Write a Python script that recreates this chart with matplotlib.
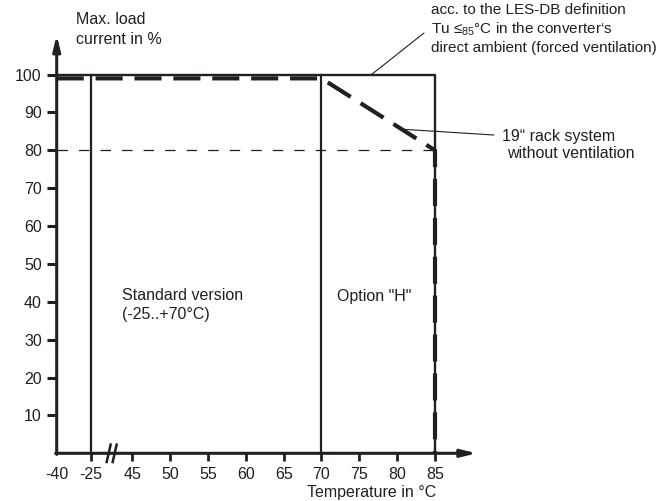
import numpy as np
import matplotlib
matplotlib.use("Agg")
import matplotlib.pyplot as plt

plt.rcParams['font.family'] = ['Liberation Sans', 'DejaVu Sans']
plt.rcParams['mathtext.fontset'] = 'custom'
plt.rcParams['mathtext.rm'] = 'Liberation Sans'
plt.rcParams['lines.scale_dashes'] = False

INK = '#231f20'

# data
x_ticks = [-40, -25, 45, 50, 55, 60, 65, 70, 75, 80, 85]
y_ticks = [10, 20, 30, 40, 50, 60, 70, 80, 90, 100]

box_temp = [-40, 85, 85]
box_load = [100, 100, 0]
divider_temps = [-25, 70]
divider_load = [0, 100]

rack_temp = [-40, 70, 85, 85]
rack_load = [99, 99, 80, 0]

ref_level = 80

# broken temperature axis: -40..-25 and 45..85 on one axis
brk_t = [-40, -25, 45, 85]
brk_u = [0, 34.3, 75.6, 378.3]


def t2u(t):
    return np.interp(t, brk_t, brk_u)


W, H = 667, 501
fig = plt.figure(figsize=(W / 100, H / 100), dpi=100)
ax = fig.add_axes([56.7 / W, (H - 453.3) / H, 420 / W, (453.3 - 35) / H])
ax.set_xlim(0, 420)
ax.set_ylim(0, (453.3 - 35) / 3.787)
for s in ax.spines.values():
    s.set_visible(False)

# axes with arrows
arrow = dict(arrowstyle='-|>,head_length=0.9,head_width=0.22', lw=2.2,
             color=INK, shrinkA=0, shrinkB=0)
ax.annotate('', xy=(420, 0), xytext=(-1, 0), arrowprops=arrow, annotation_clip=False)
ax.annotate('', xy=(0, ax.get_ylim()[1]), xytext=(0, -0.3), arrowprops=arrow,
            annotation_clip=False)

# solid box and dividers
ax.plot(t2u(box_temp), box_load, color=INK, lw=1.7, solid_capstyle='butt', clip_on=False)
for t in divider_temps:
    ax.plot(t2u([t, t]), divider_load, color=INK, lw=1.6, clip_on=False)

# 80 % reference
ax.plot(t2u([-40, 85]), [ref_level, ref_level], color=INK, lw=0.9,
        dashes=(7.5, 8), clip_on=False)

# rack system curve
ax.plot(t2u(rack_temp), rack_load, color=INK, lw=3, dashes=(19.5, 8.5),
        dash_capstyle='butt', clip_on=False)

# ticks
ax.set_xticks(t2u(x_ticks))
ax.set_xticklabels([str(t) for t in x_ticks], fontsize=11.5)
ax.set_yticks(y_ticks)
ax.set_yticklabels([str(v) for v in y_ticks], fontsize=11.5)
ax.tick_params(axis='x', length=6, width=2, color=INK, pad=4, labelcolor=INK)
ax.tick_params(axis='y', length=7.2, width=2.2, color=INK, pad=3.5, labelcolor=INK)
ax.xaxis.get_major_ticks()[0].tick1line.set_visible(False)

# axis break marks
bu = (t2u(-25) + t2u(45)) / 2
for off in (-3, 3):
    ax.plot([bu + off - 2, bu + off + 2], [-2.3, 2.3], color=INK, lw=1.8, clip_on=False)


def px_text(x, y, s, size=11.5, **kw):
    fig.text(x / W, 1 - y / H, s, fontsize=size, color=INK, va='center', **kw)


px_text(76, 20, 'Max. load')
px_text(76, 39, 'current in %')
px_text(372, 492, 'Temperature in °C', ha='center')

px_text(431, 10, 'acc. to the LES-DB definition', size=11)
px_text(431, 29, r'Tu ≤$_{\mathregular{85}}$°C in the converter‘s', size=11)
px_text(431, 48, 'direct ambient (forced ventilation)', size=11)

px_text(502, 136, '19“ rack system')
px_text(507, 154, 'without ventilation')

px_text(121.7, 296, 'Standard version')
px_text(121.7, 314, '(-25..+70°C)')
px_text(337.3, 296, 'Option "H"')

# leader lines
lead = dict(arrowstyle='-', lw=0.8, color=INK, shrinkA=0, shrinkB=0)
ax.annotate('', xy=(t2u(76.6), 100), xytext=(424, H - 33), textcoords='figure pixels',
            arrowprops=lead, annotation_clip=False)
lead_t = 80.6
lead_y = np.interp(lead_t, rack_temp[1:3], rack_load[1:3])
ax.annotate('', xy=(t2u(lead_t), lead_y), xytext=(494, H - 135), textcoords='figure pixels',
            arrowprops=lead, annotation_clip=False)

fig.savefig('out.png', dpi=100)
